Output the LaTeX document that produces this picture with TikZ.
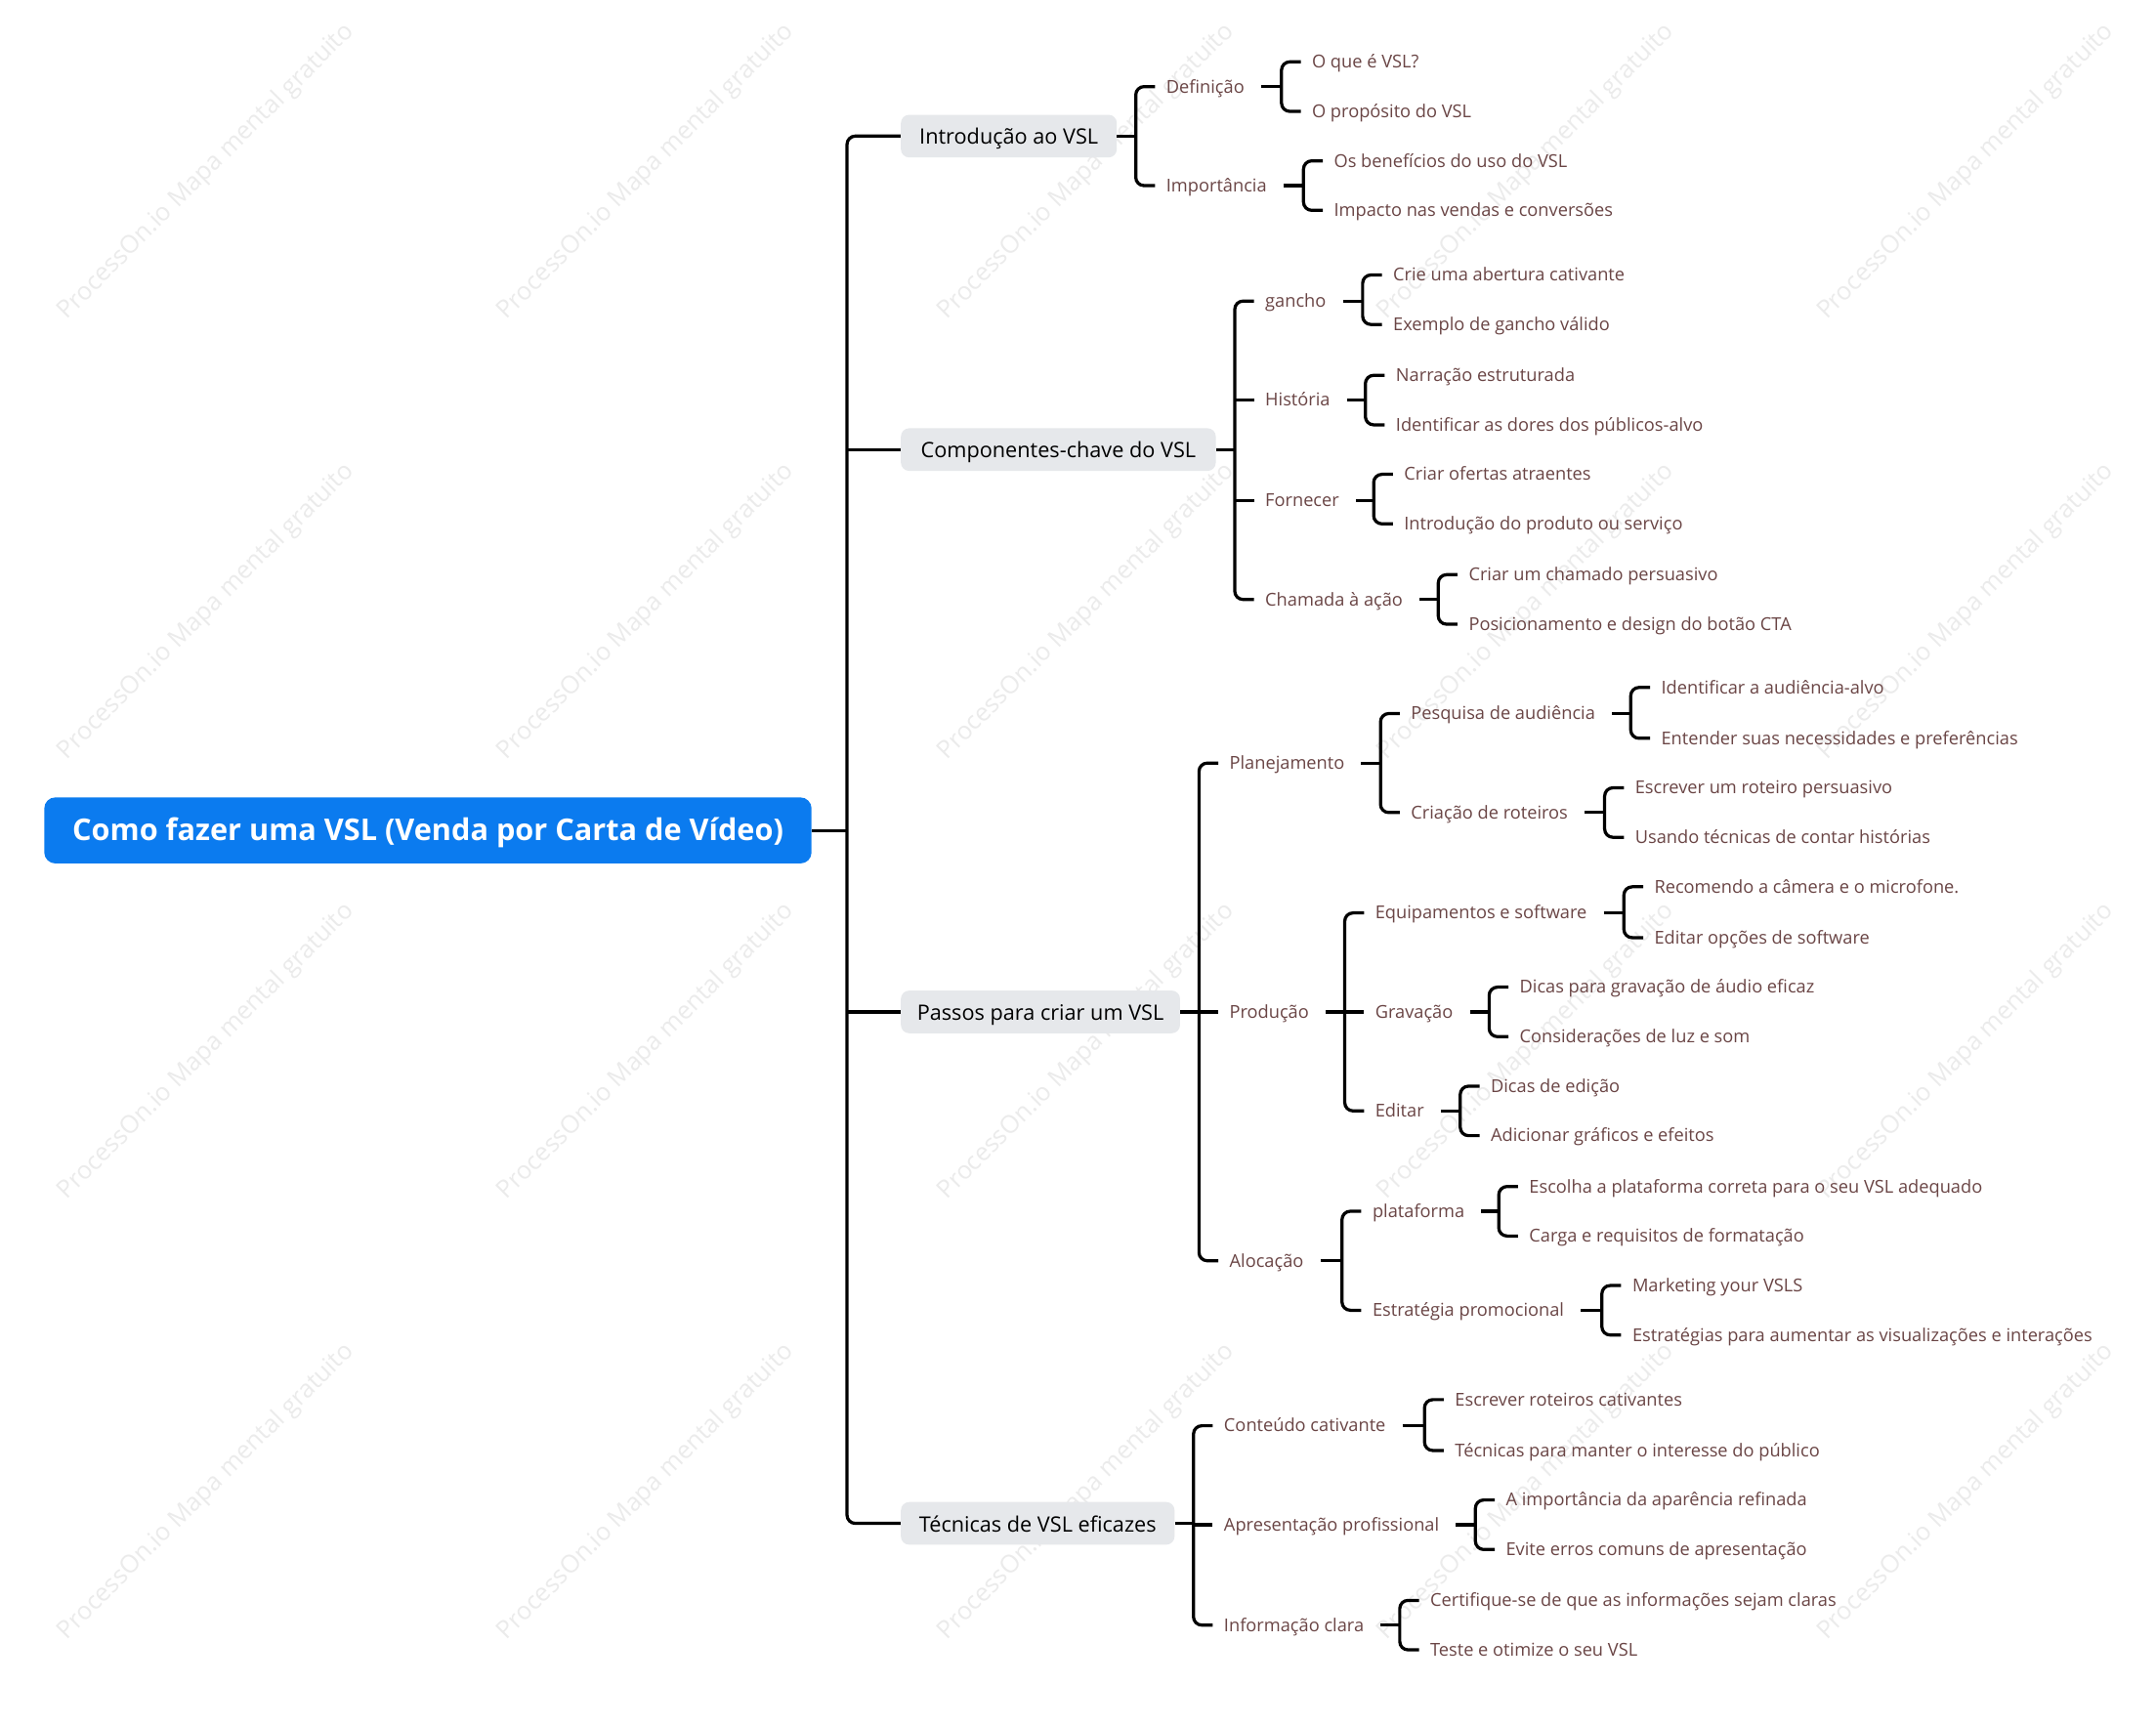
\documentclass[tikz,border=0pt]{standalone}
\usepackage{fontspec}
\setmainfont{Open Sans}
\usetikzlibrary{calc}
\definecolor{rootblue}{HTML}{0B7BEF}
\definecolor{lgray}{HTML}{E6E8EB}
\definecolor{leafc}{HTML}{6A4545}
\definecolor{wmark}{HTML}{EBEBEB}
% #1 parent, #2 first child, #3 last child, #4 parent gap, #5 vertical offset, #6 child gap
\newcommand\mybr[6]{%
  \draw[conn] ([xshift=#4]#1.east) -- ($(#1.east -| #2.west)+(-#5,0)$);
  \draw[conn,rounded corners=6pt] ([xshift=#6]#2.west) -- ([xshift=-#5]#2.west) -- ([xshift=-#5]#3.west) -- ([xshift=#6]#3.west);}
\newcommand\mytick[3]{\draw[conn] ([xshift=-#2]#1.west) -- ([xshift=#3]#1.west);}
\begin{document}
\begin{tikzpicture}[x=1pt,y=-1pt,
  rootbox/.style={fill=rootblue,rounded corners=8pt,text=white,font=\bfseries\fontsize{21.8}{25}\selectfont,minimum height=48pt,inner xsep=0pt,anchor=west,text height=17pt,text depth=3pt},
  lonebox/.style={fill=lgray,rounded corners=6pt,text=black,font=\fontsize{15.4}{18}\selectfont,minimum height=31pt,inner xsep=0pt,anchor=west,text height=15pt,text depth=3pt},
  txt/.style={text=leafc,font=\fontsize{12.95}{15}\selectfont,inner sep=0pt,anchor=west,text height=12pt,text depth=3pt},
  conn/.style={line width=2.3pt,black},
  wm/.style={text=wmark,font=\fontsize{18}{21}\selectfont,rotate=45,inner sep=0pt}
]
\useasboundingbox (0,0) rectangle (1568,1255);
\fill[white] (0,0) rectangle (1568,1255);
% watermarks
\foreach \i in {0,...,4}{\foreach \j in {0,...,3}{
  \node[wm] (wm-\i-\j) at (150+320*\i,125+320*\j) {ProcessOn.io Mapa mental gratuito};}}
% root
\node[rootbox,minimum width=558pt] (root) at (32,604) {Como fazer uma VSL (Venda por Carta de Vídeo)};
% level 1
\node[lonebox,minimum width=157pt] (intro) at (655,99) {Introdução ao VSL};
\node[lonebox,minimum width=229pt] (comp) at (655,327) {Componentes-chave do VSL};
\node[lonebox,minimum width=203pt] (pass) at (655,736) {Passos para criar um VSL};
\node[lonebox,minimum width=199pt] (tec) at (655,1108) {Técnicas de VSL eficazes};
% intro
\node[txt] (def) at (848,63) {Definição};
\node[txt] (imp) at (848,135) {Importância};
\node[txt] (def1) at (954,45) {O que é VSL?};
\node[txt] (def2) at (954,81) {O propósito do VSL};
\node[txt] (imp1) at (970,117) {Os benefícios do uso do VSL};
\node[txt] (imp2) at (970,153) {Impacto nas vendas e conversões};
% componentes
\node[txt] (gan) at (920,219) {gancho};
\node[txt] (his) at (920,291) {História};
\node[txt] (for) at (920,364) {Fornecer};
\node[txt] (cha) at (920,436) {Chamada à ação};
\node[txt] (gan1) at (1013,200) {Crie uma abertura cativante};
\node[txt] (gan2) at (1013,236) {Exemplo de gancho válido};
\node[txt] (his1) at (1015,273) {Narração estruturada};
\node[txt] (his2) at (1015,309) {Identificar as dores dos públicos-alvo};
\node[txt] (for1) at (1021,345) {Criar ofertas atraentes};
\node[txt] (for2) at (1021,381) {Introdução do produto ou serviço};
\node[txt] (cha1) at (1068,418) {Criar um chamado persuasivo};
\node[txt] (cha2) at (1068,454) {Posicionamento e design do botão CTA};
% passos
\node[txt] (pla) at (894,555) {Planejamento};
\node[txt] (pro) at (894,736) {Produção};
\node[txt] (alo) at (894,917) {Alocação};
\node[txt] (pes) at (1026,519) {Pesquisa de audiência};
\node[txt] (cri) at (1026,591) {Criação de roteiros};
\node[txt] (pes1) at (1208,500) {Identificar a audiência-alvo};
\node[txt] (pes2) at (1208,537) {Entender suas necessidades e preferências};
\node[txt] (cri1) at (1189,573) {Escrever um roteiro persuasivo};
\node[txt] (cri2) at (1189,609) {Usando técnicas de contar histórias};
\node[txt] (equ) at (1000,664) {Equipamentos e software};
\node[txt] (gra) at (1000,736) {Gravação};
\node[txt] (edi) at (1000,808) {Editar};
\node[txt] (equ1) at (1203,645) {Recomendo a câmera e o microfone.};
\node[txt] (equ2) at (1203,682) {Editar opções de software};
\node[txt] (gra1) at (1105,718) {Dicas para gravação de áudio eficaz};
\node[txt] (gra2) at (1105,754) {Considerações de luz e som};
\node[txt] (edi1) at (1084,790) {Dicas de edição};
\node[txt] (edi2) at (1084,826) {Adicionar gráficos e efeitos};
\node[txt] (plat) at (998,881) {plataforma};
\node[txt] (est) at (998,953) {Estratégia promocional};
\node[txt] (plat1) at (1112,863) {Escolha a plataforma correta para o seu VSL adequado};
\node[txt] (plat2) at (1112,899) {Carga e requisitos de formatação};
\node[txt] (est1) at (1187,935) {Marketing your VSLS};
\node[txt] (est2) at (1187,971) {Estratégias para aumentar as visualizações e interações};
% tecnicas
\node[txt] (con) at (890,1037) {Conteúdo cativante};
\node[txt] (apr) at (890,1109) {Apresentação profissional};
\node[txt] (inf) at (890,1182) {Informação clara};
\node[txt] (con1) at (1058,1018) {Escrever roteiros cativantes};
\node[txt] (con2) at (1058,1055) {Técnicas para manter o interesse do público};
\node[txt] (apr1) at (1095,1091) {A importância da aparência refinada};
\node[txt] (apr2) at (1095,1127) {Evite erros comuns de apresentação};
\node[txt] (inf1) at (1040,1164) {Certifique-se de que as informações sejam claras};
\node[txt] (inf2) at (1040,1200) {Teste e otimize o seu VSL};
% connectors
\mybr{root}{intro}{tec}{0pt}{39pt}{0pt}
\mytick{comp}{39pt}{0pt}
\mytick{pass}{39pt}{0pt}
\mybr{intro}{def}{imp}{0pt}{22pt}{-8pt}
\mybr{comp}{gan}{cha}{0pt}{22pt}{-8pt}
\mytick{his}{22pt}{-8pt}
\mytick{for}{22pt}{-8pt}
\mybr{pass}{pla}{alo}{0pt}{22pt}{-8pt}
\mytick{pro}{22pt}{-8pt}
\mybr{tec}{con}{inf}{0pt}{22pt}{-8pt}
\mytick{apr}{22pt}{-8pt}
\mybr{def}{def1}{def2}{12pt}{22pt}{-8pt}
\mybr{imp}{imp1}{imp2}{12pt}{22pt}{-8pt}
\mybr{gan}{gan1}{gan2}{12pt}{22pt}{-8pt}
\mybr{his}{his1}{his2}{12pt}{22pt}{-8pt}
\mybr{for}{for1}{for2}{12pt}{22pt}{-8pt}
\mybr{cha}{cha1}{cha2}{12pt}{22pt}{-8pt}
\mybr{pla}{pes}{cri}{12pt}{22pt}{-8pt}
\mybr{pes}{pes1}{pes2}{12pt}{22pt}{-8pt}
\mybr{cri}{cri1}{cri2}{12pt}{22pt}{-8pt}
\mybr{pro}{equ}{edi}{12pt}{22pt}{-8pt}
\mytick{gra}{22pt}{-8pt}
\mybr{equ}{equ1}{equ2}{12pt}{22pt}{-8pt}
\mybr{gra}{gra1}{gra2}{12pt}{22pt}{-8pt}
\mybr{edi}{edi1}{edi2}{12pt}{22pt}{-8pt}
\mybr{alo}{plat}{est}{12pt}{22pt}{-8pt}
\mybr{plat}{plat1}{plat2}{12pt}{22pt}{-8pt}
\mybr{est}{est1}{est2}{12pt}{22pt}{-8pt}
\mybr{con}{con1}{con2}{12pt}{22pt}{-8pt}
\mybr{apr}{apr1}{apr2}{12pt}{22pt}{-8pt}
\mybr{inf}{inf1}{inf2}{12pt}{22pt}{-8pt}
\end{tikzpicture}
\end{document}
